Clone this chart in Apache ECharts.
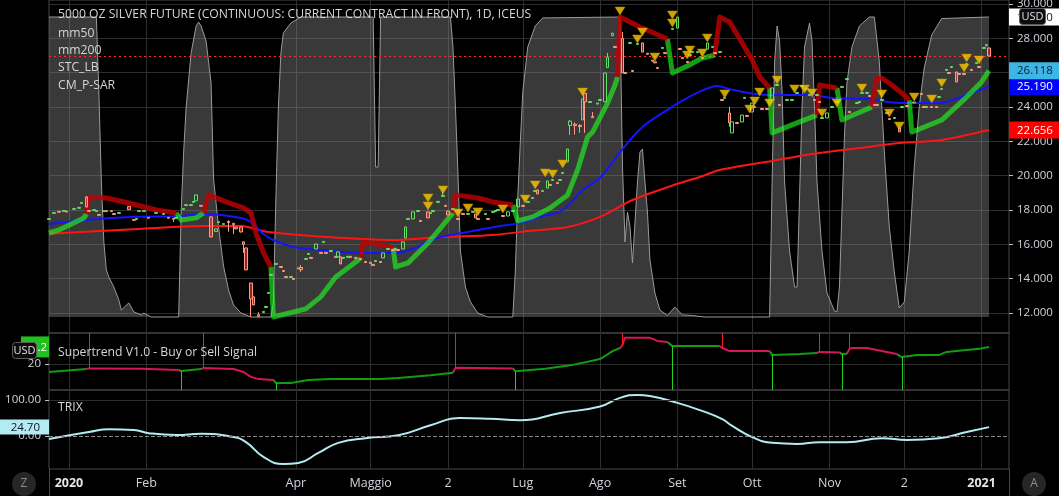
<!DOCTYPE html>
<html><head><meta charset="utf-8">
<script src="https://cdn.jsdelivr.net/npm/echarts@6/dist/echarts.min.js"></script>
<style>html,body{margin:0;padding:0;background:#000;}#c{width:1059px;height:496px;}</style>
</head><body><div id="c"></div>
<script>
const titleText = '5000 OZ SILVER FUTURE (CONTINUOUS: CURRENT CONTRACT IN FRONT), 1D, ICEUS';
const legendNames = ['mm50', 'mm200', 'STC_LB', 'CM_P-SAR'];
const stPaneName = 'Supertrend V1.0 - Buy or Sell Signal';
const trixPaneName = 'TRIX';
const monthTicks = ['2020-01-01','2020-02-01','2020-04-01','2020-05-01','2020-06-01','2020-07-01','2020-08-01','2020-09-01','2020-10-01','2020-11-01','2020-12-01','2021-01-01'];
const monthLabels = ['2020','Feb','Apr','Maggio','2','Lug','Ago','Set','Ott','Nov','2','2021'];
const priceTicks = [12,14,16,18,20,22,24,26,28,30];
const stTicks = [20];
const trixTicks = [0,100];

// [date, open, close, low, high]
const candles = [
['2019-12-24',17.45,17.50,17.44,17.51],['2019-12-26',17.80,17.85,17.79,17.86],['2019-12-28',17.92,17.87,17.86,17.93],
['2019-12-30',17.92,17.97,17.91,17.98],['2019-12-31',17.93,17.88,17.87,17.94],['2020-01-03',18.04,18.09,18.03,18.10],
['2020-01-05',18.10,18.15,18.09,18.16],['2020-01-06',18.38,18.44,18.37,18.45],['2020-01-08',18.76,18.18,18.15,18.80],
['2020-01-09',17.97,17.92,17.91,17.98],['2020-01-11',17.97,18.02,17.96,18.03],['2020-01-12',17.91,17.96,17.90,17.97],
['2020-01-13',17.74,17.69,17.68,17.75],['2020-01-15',17.91,17.96,17.90,17.97],['2020-01-16',17.96,17.91,17.90,17.97],
['2020-01-18',17.96,17.91,17.90,17.97],['2020-01-19',17.79,17.74,17.73,17.80],['2020-01-21',17.80,17.85,17.79,17.86],
['2020-01-25',18.20,18.02,18.01,18.21],['2020-01-27',17.45,17.40,17.39,17.46],['2020-01-28',17.45,17.50,17.44,17.51],
['2020-01-29',17.91,17.96,17.90,17.97],['2020-01-31',17.91,17.96,17.90,17.97],['2020-02-02',17.57,17.52,17.51,17.58],
['2020-02-05',17.80,17.85,17.79,17.86],['2020-02-08',17.74,17.79,17.73,17.80],['2020-02-10',17.57,17.52,17.51,17.58],
['2020-02-12',17.51,17.46,17.30,17.52],['2020-02-13',17.51,17.56,17.50,17.57],['2020-02-16',18.03,18.08,18.02,18.09],
['2020-02-17',18.26,18.31,18.25,18.32],['2020-02-19',18.26,18.31,18.25,18.32],['2020-02-20',18.44,18.50,18.43,18.51],
['2020-02-21',18.53,18.88,18.52,18.89],['2020-02-23',18.27,18.22,18.21,18.28],['2020-02-27',17.60,16.43,16.40,17.62],
['2020-02-29',16.75,16.90,16.74,16.91],['2020-03-01',17.27,17.32,17.26,17.33],['2020-03-03',17.16,17.21,17.15,17.22],
['2020-03-05',17.33,17.27,16.73,17.40],['2020-03-07',17.22,17.16,16.60,17.23],['2020-03-08',17.00,16.90,16.89,17.01],
['2020-03-10',17.01,16.72,16.70,17.02],['2020-03-11',16.15,16.00,15.50,16.16],['2020-03-12',15.79,14.51,14.50,15.80],
['2020-03-14',13.75,12.82,11.77,13.76],['2020-03-15',12.94,12.47,12.46,12.95],['2020-03-17',11.90,11.80,11.78,12.05],
['2020-03-19',12.03,12.09,12.02,12.10],['2020-03-20',12.32,12.38,12.31,12.39],['2020-03-21',13.14,13.20,13.13,13.21],
['2020-03-22',14.19,14.25,14.18,14.26],['2020-03-24',14.83,14.89,14.82,14.90],['2020-03-26',14.71,14.65,14.64,14.72],
['2020-03-27',14.48,14.42,14.41,14.49],['2020-03-28',14.13,14.07,14.06,14.14],['2020-03-30',14.07,14.13,14.06,14.14],
['2020-03-31',14.01,13.95,13.94,14.02],['2020-04-02',14.57,14.63,14.56,14.64],['2020-04-03',14.65,14.52,14.40,14.80],
['2020-04-05',15.12,15.18,15.11,15.19],['2020-04-06',15.41,15.47,15.40,15.48],['2020-04-07',15.24,15.18,15.17,15.25],
['2020-04-09',15.73,16.02,15.72,16.03],['2020-04-11',15.53,15.47,15.46,15.54],['2020-04-12',16.11,16.17,16.10,16.18],
['2020-04-13',15.53,15.47,15.46,15.54],['2020-04-15',15.58,15.64,15.57,15.65],['2020-04-17',15.30,15.24,15.23,15.31],
['2020-04-18',15.27,15.56,15.26,15.57],['2020-04-19',15.27,14.86,14.85,15.28],['2020-04-20',15.18,15.24,15.17,15.25],
['2020-04-22',15.24,15.30,15.23,15.31],['2020-04-23',15.30,15.24,15.23,15.31],['2020-04-25',15.24,15.18,15.17,15.25],
['2020-04-27',15.18,15.12,15.11,15.19],['2020-04-29',15.00,14.94,14.93,15.01],['2020-05-01',14.95,14.89,14.88,14.96],
['2020-05-02',14.83,14.77,14.76,14.84],['2020-05-03',15.00,15.06,14.99,15.07],['2020-05-05',15.00,14.94,14.93,15.01],
['2020-05-06',15.21,15.50,15.20,15.51],['2020-05-08',15.70,15.76,15.69,15.77],['2020-05-10',15.70,15.64,15.63,15.71],
['2020-05-11',15.70,15.76,15.69,15.77],['2020-05-12',15.70,15.64,15.63,15.71],['2020-05-14',15.73,16.14,15.72,16.15],
['2020-05-15',16.37,17.01,16.36,17.02],['2020-05-16',17.45,17.51,17.44,17.52],['2020-05-18',17.48,17.89,17.47,17.90],
['2020-05-20',17.91,17.97,17.90,17.98],['2020-05-21',17.39,17.33,17.32,17.40],['2020-05-24',17.89,17.54,17.53,17.90],
['2020-05-25',17.80,17.86,17.79,17.87],['2020-05-26',17.91,17.97,17.90,17.98],['2020-05-28',18.44,18.50,18.43,18.51],
['2020-05-30',18.79,18.85,18.78,19.05],['2020-05-31',18.27,18.21,18.20,18.28],['2020-06-01',17.94,17.71,17.70,17.95],
['2020-06-03',18.03,18.09,18.02,18.10],['2020-06-05',17.51,17.45,17.44,17.52],['2020-06-07',17.80,17.74,17.73,17.81],
['2020-06-09',17.74,17.80,17.73,17.81],['2020-06-11',17.86,17.92,17.85,17.93],['2020-06-12',17.77,17.54,17.53,17.78],
['2020-06-13',17.51,17.45,17.44,17.52],['2020-06-16',17.74,17.80,17.73,17.81],['2020-06-17',17.51,17.45,17.44,17.52],
['2020-06-19',17.86,17.92,17.85,17.93],['2020-06-20',17.91,17.97,17.90,17.98],['2020-06-21',17.97,18.03,17.96,18.04],
['2020-06-23',17.68,17.62,17.61,17.69],['2020-06-25',17.65,17.89,17.64,17.90],['2020-06-27',17.91,17.97,17.90,17.98],
['2020-06-29',18.18,18.64,18.17,18.65],['2020-07-01',18.27,18.21,18.20,18.28],['2020-07-03',18.44,18.50,18.43,18.51],
['2020-07-05',18.67,18.73,18.66,18.74],['2020-07-06',19.08,19.14,19.07,19.15],['2020-07-07',19.17,18.94,18.93,19.18],
['2020-07-09',19.08,19.14,19.07,19.15],['2020-07-11',19.28,19.69,19.27,19.70],['2020-07-12',19.49,19.43,19.42,19.50],
['2020-07-13',19.72,19.78,19.71,19.79],['2020-07-15',19.60,19.54,19.53,19.61],['2020-07-16',19.72,19.78,19.71,19.79],
['2020-07-17',20.13,20.19,20.12,20.20],['2020-07-19',20.80,21.55,20.79,21.56],['2020-07-20',22.92,23.18,22.37,23.24],
['2020-07-22',23.00,22.92,22.40,23.10],['2020-07-24',22.92,22.86,22.50,23.00],['2020-07-25',23.25,24.47,23.24,24.48],
['2020-07-26',24.80,24.30,22.49,24.81],['2020-07-28',24.26,24.32,24.25,24.33],['2020-07-29',23.45,23.38,23.37,23.70],
['2020-07-31',24.17,24.23,24.16,24.24],['2020-08-01',24.38,24.44,24.37,24.45],['2020-08-03',24.30,25.98,24.29,25.99],
['2020-08-04',26.30,26.90,26.29,27.15],['2020-08-06',28.15,28.30,28.14,28.31],['2020-08-07',27.53,27.47,27.46,27.54],
['2020-08-10',28.00,26.00,25.98,28.37],['2020-08-11',26.01,25.95,25.94,26.02],['2020-08-13',27.70,27.76,27.69,27.77],
['2020-08-14',26.13,26.07,26.06,26.14],['2020-08-16',27.64,27.70,27.63,27.71],['2020-08-18',27.73,27.20,27.19,27.74],
['2020-08-20',27.13,27.07,27.06,27.14],['2020-08-22',26.73,26.67,26.66,26.74],['2020-08-23',26.63,26.57,26.56,26.64],
['2020-08-24',26.30,26.24,26.23,26.31],['2020-08-26',27.41,27.47,27.40,27.48],['2020-08-27',27.17,27.11,27.10,27.18],
['2020-08-30',28.52,28.58,28.51,28.59],['2020-09-01',28.60,29.24,28.59,29.25],['2020-09-02',27.41,27.35,27.34,27.42],
['2020-09-03',26.88,26.82,26.81,26.89],['2020-09-05',26.65,26.59,26.58,26.66],['2020-09-06',27.00,27.06,26.99,27.07],
['2020-09-07',27.17,27.23,27.16,27.24],['2020-09-09',27.17,27.23,27.16,27.24],['2020-09-11',26.88,26.82,26.81,26.89],
['2020-09-13',27.38,27.73,27.37,27.74],['2020-09-15',27.47,27.53,27.46,27.54],['2020-09-16',27.17,27.11,27.10,27.18],
['2020-09-18',27.17,27.23,27.16,27.24],['2020-09-19',24.44,24.38,24.37,24.45],['2020-09-20',24.50,24.56,24.49,24.57],
['2020-09-22',23.65,23.07,22.85,24.00],['2020-09-23',22.49,23.13,22.48,23.14],['2020-09-25',23.10,23.04,23.03,23.11],
['2020-09-27',23.13,23.53,23.12,23.54],['2020-09-28',24.50,24.56,24.49,24.57],['2020-09-29',23.51,23.45,23.44,23.52],
['2020-10-01',23.71,24.23,23.70,24.24],['2020-10-02',24.03,23.97,23.96,24.04],['2020-10-05',23.91,23.85,23.84,23.92],
['2020-10-07',23.91,23.85,23.84,23.92],['2020-10-09',24.41,25.11,24.40,25.12],['2020-10-11',25.25,25.31,25.24,25.32],
['2020-10-12',24.15,24.09,24.08,24.16],['2020-10-15',24.38,24.44,24.37,24.45],['2020-10-17',24.38,24.44,24.37,24.45],
['2020-10-19',24.79,24.85,24.78,24.86],['2020-10-21',25.19,25.25,25.18,25.26],['2020-10-23',25.02,25.08,25.01,25.09],
['2020-10-24',24.67,24.73,24.66,24.74],['2020-10-26',24.44,24.38,24.37,24.45],['2020-10-27',24.67,24.73,24.66,24.74],
['2020-10-28',24.32,24.26,24.25,24.33],['2020-10-29',23.33,23.39,23.32,23.40],['2020-10-31',23.36,23.65,23.35,23.66],
['2020-11-02',23.97,24.03,23.96,24.04],['2020-11-04',24.26,24.32,24.25,24.33],['2020-11-06',25.14,25.20,25.13,25.21],
['2020-11-08',25.60,25.66,25.59,25.67],['2020-11-09',23.74,23.68,23.67,23.75],['2020-11-12',24.20,24.26,24.19,24.27],
['2020-11-13',24.26,24.32,24.25,24.33],['2020-11-14',24.79,24.85,24.78,24.86],['2020-11-16',24.79,24.85,24.78,24.86],
['2020-11-17',24.67,24.61,24.60,24.68],['2020-11-19',24.15,24.09,24.08,24.16],['2020-11-20',24.15,24.09,24.08,24.16],
['2020-11-22',24.38,24.44,24.37,24.45],['2020-11-24',23.68,23.62,23.61,23.69],['2020-11-25',23.33,23.27,23.26,23.34],
['2020-11-27',23.33,23.39,23.32,23.40],['2020-11-29',22.78,22.55,22.54,22.79],['2020-11-30',23.97,24.03,23.96,24.04],
['2020-12-02',24.09,24.03,24.02,24.10],['2020-12-05',24.23,24.29,24.22,24.30],['2020-12-08',24.79,24.73,24.72,24.80],
['2020-12-09',24.03,23.97,23.96,24.04],['2020-12-10',23.97,24.03,23.96,24.04],['2020-12-12',24.03,23.97,23.96,24.04],
['2020-12-14',24.03,23.97,23.96,24.04],['2020-12-15',24.55,24.61,24.54,24.62],['2020-12-16',25.02,25.08,25.01,25.09],
['2020-12-18',26.13,26.19,26.12,26.20],['2020-12-19',26.01,25.95,25.94,26.02],['2020-12-20',26.30,26.36,26.29,26.37],
['2020-12-22',26.04,25.46,25.45,26.05],['2020-12-23',25.95,25.89,25.88,25.96],['2020-12-25',25.95,25.89,25.88,25.96],
['2020-12-26',26.48,26.54,26.47,26.55],['2020-12-28',26.19,26.13,26.12,26.20],['2020-12-30',26.53,26.59,26.52,26.60],
['2020-12-31',26.36,26.30,26.29,26.37],['2021-01-02',27.41,27.47,27.40,27.48],['2021-01-03',27.57,27.63,27.56,27.64],
['2021-01-04',27.44,26.97,26.96,27.45]
];

const mm50 = [['2019-12-24',17.19],['2020-01-13',17.48],['2020-01-29',17.60],['2020-02-15',17.65],['2020-02-25',17.77],['2020-03-10',17.54],['2020-03-14',17.30],['2020-03-19',16.60],['2020-03-23',16.25],['2020-03-31',15.85],['2020-04-11',15.67],['2020-04-27',15.50],['2020-05-10',15.50],['2020-05-14',15.55],['2020-05-20',15.85],['2020-05-26',16.31],['2020-06-02',16.55],['2020-06-09',16.72],['2020-06-19',17.00],['2020-06-30',17.25],['2020-07-08',17.60],['2020-07-17',18.00],['2020-07-25',19.17],['2020-08-01',19.87],['2020-08-09',21.38],['2020-08-18',22.84],['2020-08-28',23.83],['2020-09-02',24.29],['2020-09-10',24.90],['2020-09-17',25.22],['2020-09-23',25.00],['2020-10-07',24.70],['2020-10-24',24.70],['2020-11-02',24.53],['2020-11-16',24.47],['2020-11-29',24.23],['2020-12-15',24.23],['2020-12-26',24.70],['2021-01-04',25.190]];

const mm200 = [['2019-12-24',16.62],['2020-01-29',16.90],['2020-02-25',17.07],['2020-03-10',17.07],['2020-03-14',16.96],['2020-03-21',16.72],['2020-04-13',16.43],['2020-05-10',16.25],['2020-05-30',16.43],['2020-06-19',16.55],['2020-07-05',16.80],['2020-07-19',17.01],['2020-08-01',17.60],['2020-08-14',18.58],['2020-09-02',19.57],['2020-09-10',19.92],['2020-09-18',20.33],['2020-10-09',20.86],['2020-10-25',21.26],['2020-11-13',21.61],['2020-11-29',21.90],['2020-12-16',22.08],['2021-01-04',22.656]];

const stcValues = [['2019-12-24',100],['2020-01-12',100],['2020-01-13',75],['2020-01-14',45],['2020-01-15',25],['2020-01-16',15.7],['2020-01-17',13.3],['2020-01-19',10],['2020-01-21',5.7],['2020-01-22',2.3],['2020-01-25',4.7],['2020-01-27',1.7],['2020-01-30',0.7],['2020-01-31',1.3],['2020-02-03',0],['2020-02-14',0],['2020-02-15',35],['2020-02-16',55],['2020-02-17',70],['2020-02-19',88],['2020-02-21',97],['2020-02-22',98.3],['2020-02-23',97],['2020-02-25',92],['2020-02-27',78],['2020-02-28',46],['2020-02-29',38],['2020-03-01',30],['2020-03-03',17],['2020-03-05',9],['2020-03-07',4],['2020-03-10',1.3],['2020-03-14',0],['2020-03-22',0],['2020-03-23',5],['2020-03-24',40],['2020-03-25',70],['2020-03-26',88],['2020-03-27',94.7],['2020-03-30',98],['2020-04-03',100],['2020-05-02',100],['2020-05-03',50],['2020-05-04',50],['2020-05-05',100],['2020-06-02',100],['2020-06-03',90],['2020-06-04',70],['2020-06-05',48],['2020-06-06',22],['2020-06-08',10],['2020-06-10',5],['2020-06-13',1.3],['2020-06-17',0],['2020-06-27',0],['2020-06-28',15],['2020-06-29',40],['2020-06-30',58],['2020-07-01',75],['2020-07-03',90],['2020-07-06',97],['2020-07-09',99.7],['2020-08-09',100],['2020-08-10',50],['2020-08-11',25],['2020-08-12',35],['2020-08-13',30],['2020-08-14',18],['2020-08-16',45],['2020-08-17',55],['2020-08-18',56],['2020-08-19',45],['2020-08-20',35],['2020-08-21',19],['2020-08-23',8],['2020-08-25',2.3],['2020-08-28',0.5],['2020-08-31',3.3],['2020-09-03',0.7],['2020-09-07',0.5],['2020-09-12',0],['2020-10-08',0],['2020-10-09',45],['2020-10-10',85],['2020-10-11',97],['2020-10-12',92],['2020-10-13',75],['2020-10-14',45],['2020-10-16',22],['2020-10-18',10],['2020-10-19',10],['2020-10-20',40],['2020-10-21',70],['2020-10-22',90],['2020-10-24',98],['2020-10-25',92],['2020-10-26',70],['2020-10-27',45],['2020-10-29',22],['2020-10-31',8],['2020-11-03',2],['2020-11-04',1.7],['2020-11-05',10],['2020-11-06',35],['2020-11-07',60],['2020-11-08',78],['2020-11-10',90],['2020-11-13',97],['2020-11-17',100],['2020-11-19',100],['2020-11-21',85],['2020-11-23',55],['2020-11-25',30],['2020-11-27',15],['2020-11-29',3],['2020-12-01',5],['2020-12-03',22],['2020-12-05',50],['2020-12-07',70],['2020-12-09',83],['2020-12-12',94],['2020-12-16',99.5],['2021-01-04',100]];

// P-SAR style trailing line: [trend, points]
const sarSegments = [
['g', [['2019-12-24',16.66],['2019-12-28',16.84],['2020-01-07',17.54],['2020-01-08',17.77]]],
['r', [['2020-01-09',18.76],['2020-01-16',18.70],['2020-01-25',18.41],['2020-02-05',18.00],['2020-02-13',17.83]]],
['g', [['2020-02-15',17.42],['2020-02-21',17.54],['2020-02-24',17.83]]],
['r', [['2020-02-26',18.88],['2020-03-04',18.47],['2020-03-11',18.12],['2020-03-14',17.83],['2020-03-16',16.66],['2020-03-19',15.50],['2020-03-22',14.68]]],
['g', [['2020-03-23',11.77],['2020-04-05',12.24],['2020-04-11',12.94],['2020-04-17',14.10],['2020-04-25',14.97],['2020-04-27',15.21]]],
['r', [['2020-04-28',16.14],['2020-05-05',15.97],['2020-05-10',15.79]]],
['g', [['2020-05-11',14.68],['2020-05-16',14.92],['2020-05-24',16.08],['2020-05-29',16.95],['2020-06-03',17.83]]],
['r', [['2020-06-04',18.88],['2020-06-13',18.70],['2020-06-19',18.47],['2020-06-27',18.29]]],
['g', [['2020-06-29',17.36],['2020-07-05',17.60],['2020-07-12',18.12],['2020-07-19',18.88],['2020-07-23',20.33],['2020-07-27',22.25],['2020-07-29',22.54],['2020-08-04',24.23],['2020-08-07',25.28],['2020-08-08',25.75]]],
['r', [['2020-08-09',29.24],['2020-08-17',28.66],['2020-08-28',27.96]]],
['g', [['2020-08-30',25.98],['2020-09-05',26.39],['2020-09-11',26.85],['2020-09-16',27.03]]],
['r', [['2020-09-18',29.24],['2020-09-22',28.95],['2020-09-27',27.73],['2020-10-01',26.74],['2020-10-04',25.75],['2020-10-08',25.11]]],
['g', [['2020-10-09',22.49],['2020-10-20',23.13],['2020-10-27',23.53]]],
['r', [['2020-10-28',25.28],['2020-11-04',25.11]]],
['g', [['2020-11-06',23.24],['2020-11-18',24.00]]],
['r', [['2020-11-20',25.69],['2020-11-22',25.69],['2020-11-26',25.28],['2020-11-30',24.82],['2020-12-03',24.41]]],
['g', [['2020-12-04',22.54],['2020-12-16',23.24],['2020-12-26',24.58],['2021-01-01',25.46],['2021-01-04',26.118]]]
];

const triangles = [['2020-05-24',18.70],['2020-05-24',18.24],['2020-05-30',19.17],['2020-06-05',17.83],['2020-06-09',18.12],['2020-06-13',17.89],['2020-06-23',18.06],['2020-07-02',18.64],['2020-07-06',19.46],['2020-07-10',20.16],['2020-07-13',20.10],['2020-07-17',20.68],['2020-07-25',24.87],['2020-08-09',29.59],['2020-08-16',27.96],['2020-08-18',28.37],['2020-08-23',26.91],['2020-08-30',29.36],['2020-08-30',28.89],['2020-09-05',27.03],['2020-09-06',27.32],['2020-09-11',27.15],['2020-09-13',28.02],['2020-09-20',24.76],['2020-09-30',23.88],['2020-10-02',24.35],['2020-10-04',24.87],['2020-10-08',24.23],['2020-10-11',25.57],['2020-10-18',25.05],['2020-10-22',25.05],['2020-10-25',24.82],['2020-10-29',23.65],['2020-11-04',24.23],['2020-11-14',25.11],['2020-11-22',24.76],['2020-11-25',23.65],['2020-11-29',22.89],['2020-12-05',24.58],['2020-12-12',24.47],['2020-12-16',25.40],['2020-12-25',26.27],['2020-12-26',26.85],['2020-12-31',26.74]];

const stSegments = [
['g', [['2019-12-24',17.1],['2020-01-08',18.2]]],
['r', [['2020-01-09',18.4],['2020-01-30',18.3],['2020-02-14',17.8]]],
['g', [['2020-02-15',17.45],['2020-02-23',18.2]]],
['r', [['2020-02-24',18.5],['2020-03-07',18.2],['2020-03-11',17.1],['2020-03-14',15.3],['2020-03-17',14.5],['2020-03-23',14.2]]],
['g', [['2020-03-24',13.1],['2020-03-30',13.1],['2020-04-06',14.2],['2020-04-15',14.5],['2020-05-05',14.5],['2020-05-12',14.9],['2020-05-25',15.9],['2020-06-03',16.8]]],
['r', [['2020-06-04',18.6],['2020-06-27',18.4]]],
['g', [['2020-06-28',17.4],['2020-07-10',18.3],['2020-07-20',19.5],['2020-07-27',20.8],['2020-08-01',21.8],['2020-08-06',24.7],['2020-08-09',25.8]]],
['r', [['2020-08-10',26.9],['2020-08-11',29.5],['2020-08-21',29.5],['2020-08-24',28.4],['2020-08-28',28.0]]],
['g', [['2020-08-30',26.5],['2020-09-18',26.5]]],
['r', [['2020-09-19',25.8],['2020-09-22',24.7],['2020-10-08',24.7]]],
['g', [['2020-10-09',23.3],['2020-10-20',23.6],['2020-10-27',24.0]]],
['r', [['2020-10-28',24.4],['2020-11-05',24.2]]],
['g', [['2020-11-06',23.6],['2020-11-08',23.7]]],
['r', [['2020-11-09',25.5],['2020-11-10',25.8],['2020-11-16',25.8],['2020-11-20',25.1],['2020-11-28',23.6]]],
['g', [['2020-11-30',22.5],['2020-12-06',23.3],['2020-12-15',23.3],['2020-12-18',24.4],['2020-12-31',25.5],['2021-01-04',26.2]]]
];
const stSell = [['2020-01-09',18.4],['2020-02-24',18.5],['2020-06-04',18.6],['2020-08-10',26.9],['2020-09-19',25.8],['2020-10-28',24.4],['2020-11-09',25.5]];
const stBuy = [['2020-02-15',17.45],['2020-03-24',13.1],['2020-06-28',17.4],['2020-08-30',26.5],['2020-10-09',23.3],['2020-11-06',23.6],['2020-11-30',22.5]];

const trix = [['2019-12-24',-8],['2020-01-09',11],['2020-01-17',19],['2020-01-27',17],['2020-02-02',8],['2020-02-13',3],['2020-02-23',6],['2020-03-07',-3],['2020-03-12',-17],['2020-03-19',-58],['2020-03-27',-78],['2020-04-02',-75],['2020-04-10',-47],['2020-04-18',-19],['2020-04-29',-6],['2020-05-12',2],['2020-05-25',30],['2020-06-06',50],['2020-06-18',48],['2020-06-30',44],['2020-07-16',64],['2020-08-01',82],['2020-08-09',106],['2020-08-16',114],['2020-08-21',111],['2020-09-01',92],['2020-09-10',72],['2020-09-19',47],['2020-09-23',28],['2020-10-01',-3],['2020-10-09',-19],['2020-10-19',-22],['2020-10-28',-17],['2020-11-08',-17],['2020-11-22',-6],['2020-12-02',-11],['2020-12-15',-6],['2020-12-26',11],['2021-01-04',24.70]];

// ---------- build ----------
const FONT = 'Open Sans';
const TXT = '#d1d4dc';
const GRIDC = '#2e2e2e';
const FS = 12.2;
const xMin = '2019-12-24', xMax = '2021-01-12';
const ts = s => { const p = s.split('-').map(Number); return new Date(p[0], p[1]-1, p[2]).getTime(); };
const T = arr => arr.map(p => [ts(p[0])].concat(p.slice(1)));
const monthTs = monthTicks.map(ts);
function fmtMonth(v) {
  const i = monthTs.findIndex(t => Math.abs(t - v) < 43200000);
  if (i < 0) return '';
  const l = monthLabels[i];
  return /^\d{4}$/.test(l) ? '{y|' + l + '}' : l;
}
function splitSegs(segs) {
  const out = {g: [], r: []};
  segs.forEach((s, i) => {
    const arr = out[s[0]];
    if (arr.length) arr.push([ts(s[1][0][0]), '-']);
    if (i > 0) { const prev = segs[i-1][1]; const lp = prev[prev.length-1]; arr.push([ts(lp[0]), lp[1]]); }
    s[1].forEach(p => arr.push([ts(p[0]), p[1]]));
  });
  return out;
}
const sar = splitSegs(sarSegments);
const st = splitSegs(stSegments);
const last = a => a[a.length-1];
const sarLast = last(last(sarSegments)[1])[1];
const mm50Last = last(mm50)[1];
const mm200Last = last(mm200)[1];
const stcLast = last(stcValues)[1];
const stLast = last(last(stSegments)[1])[1];
const trixLast = last(trix)[1];
const lastClose = last(candles)[2];

const P_MIN = 10.835, P_MAX = 30.233;
const ST_MIN = 10.54, ST_MAX = 31.27;
const TR_MIN = -91.6, TR_MAX = 127.8;

function xAx(g, show) {
  return {
    type: 'value', gridIndex: g, min: ts(xMin), max: ts(xMax),
    axisLine: {show: false},
    axisTick: {show: false, customValues: monthTs},
    splitLine: {show: true, lineStyle: {color: GRIDC, width: 1}},
    axisLabel: {show: show, customValues: monthTs, hideOverlap: false, formatter: fmtMonth,
      color: TXT, fontSize: 12.5, fontFamily: FONT, margin: 8,
      rich: {y: {fontWeight: 'bold', color: '#e6e6e6', fontSize: 12.5, fontFamily: FONT}}},
    axisPointer: {show: false}
  };
}
const badge = (bg, fg, w) => ({backgroundColor: bg, color: fg, padding: [3,4,2,8], width: w, fontSize: 11.5, fontFamily: FONT, lineHeight: 12});
function badgeAxis(grid, pos, min, max, value, text, rich) {
  return {type: 'value', gridIndex: grid, position: pos, min: min, max: max,
    axisLine: {show: false}, axisTick: {show: false}, splitLine: {show: false},
    axisLabel: {customValues: [value], hideOverlap: false, margin: 0, formatter: () => '{k|' + text + '}', rich: {k: rich}}};
}
const titleStyle = {color: '#d6d6d6', fontSize: FS, fontWeight: 'normal', fontFamily: FONT};

const option = {
  backgroundColor: '#000',
  animation: false,
  title: [
    {text: titleText, left: 58, top: 8.5, padding: 0, textStyle: titleStyle},
    {text: legendNames.join('\n'), left: 58, top: 24.5, padding: 0, textStyle: Object.assign({}, titleStyle, {lineHeight: 17.3})},
    {text: stPaneName, left: 58, top: 346.5, padding: 0, textStyle: titleStyle},
    {text: trixPaneName, left: 58, top: 402, padding: 0, textStyle: titleStyle}
  ],
  grid: [
    {left: 49, right: 50, top: 0, height: 333, show: true, borderColor: '#474747', borderWidth: 1, outerBoundsMode: 'none'},
    {left: 49, right: 50, top: 333, height: 57, show: true, borderColor: '#474747', borderWidth: 1, outerBoundsMode: 'none'},
    {left: 49, right: 50, top: 390, height: 79, show: true, borderColor: '#474747', borderWidth: 1, outerBoundsMode: 'none'}
  ],
  xAxis: [xAx(0, false), xAx(1, false), xAx(2, true)],
  yAxis: [
    {type: 'value', gridIndex: 0, position: 'right', min: P_MIN, max: P_MAX,
      axisLine: {show: false},
      axisTick: {show: true, inside: false, length: 4, customValues: priceTicks, lineStyle: {color: '#bbb'}},
      axisLabel: {customValues: priceTicks, hideOverlap: false, formatter: v => v.toFixed(3), color: TXT, fontSize: 11.5, fontFamily: FONT, margin: 8},
      splitLine: {show: true, lineStyle: {color: GRIDC}}},
    badgeAxis(0, 'right', -5.33, 105.67, stcLast, stcLast.toFixed(2), badge('#ffffff', '#131313', 38)),
    badgeAxis(0, 'right', P_MIN, P_MAX, mm200Last, mm200Last.toFixed(3), badge('#ff0000', '#ffffff', 38)),
    badgeAxis(0, 'right', P_MIN, P_MAX, mm50Last, mm50Last.toFixed(3), badge('#0000ff', '#ffffff', 38)),
    badgeAxis(0, 'right', P_MIN, P_MAX, sarLast, sarLast.toFixed(3), badge('#3db5e6', '#0b1e2c', 38)),
    {type: 'value', gridIndex: 1, position: 'left', min: ST_MIN, max: ST_MAX,
      axisLine: {show: false},
      axisTick: {show: true, length: 4, customValues: stTicks, lineStyle: {color: '#bbb'}},
      axisLabel: {customValues: stTicks, formatter: v => String(v), color: TXT, fontSize: 11.5, fontFamily: FONT, margin: 8},
      splitLine: {show: true, lineStyle: {color: GRIDC}}},
    badgeAxis(1, 'left', ST_MIN, ST_MAX, stLast, stLast.toFixed(1),
      {backgroundColor: '#22c01e', color: '#ffffff', padding: [5,2,4,2], width: 24, fontSize: 11.5, fontFamily: FONT, align: 'right'}),
    {type: 'value', gridIndex: 2, position: 'left', min: TR_MIN, max: TR_MAX,
      axisLine: {show: false},
      axisTick: {show: true, length: 4, customValues: trixTicks, lineStyle: {color: '#bbb'}},
      axisLabel: {customValues: trixTicks, hideOverlap: false, formatter: v => v.toFixed(2), color: TXT, fontSize: 11.5, fontFamily: FONT, margin: 8},
      splitLine: {show: false}},
    badgeAxis(2, 'left', TR_MIN, TR_MAX, trixLast, trixLast.toFixed(2),
      {backgroundColor: '#b2ebf2', color: '#131722', padding: [2,9,1,0], width: 40, fontSize: 11.5, fontFamily: FONT, align: 'right'})
  ],
  series: [
    {name: 'STC_LB', type: 'line', xAxisIndex: 0, yAxisIndex: 1, data: T(stcValues), showSymbol: false, silent: true, z: 1,
      lineStyle: {color: '#9a9a9a', width: 1}, areaStyle: {color: 'rgba(135,135,135,0.6)'}},
    {name: 'mm200', type: 'line', xAxisIndex: 0, yAxisIndex: 0, data: T(mm200), showSymbol: false, smooth: 0.3, z: 2,
      lineStyle: {color: '#ff1414', width: 2},
      markLine: {silent: true, symbol: 'none', label: {show: false}, emphasis: {disabled: true}, z: 2,
        data: [{yAxis: lastClose, lineStyle: {type: [2, 3], color: '#ff2a2a', width: 1, opacity: 1}}]}},
    {name: 'mm50', type: 'line', xAxisIndex: 0, yAxisIndex: 0, data: T(mm50), showSymbol: false, smooth: 0.3, z: 2,
      lineStyle: {color: '#1414ff', width: 2}},
    {name: 'sarUp', type: 'line', xAxisIndex: 0, yAxisIndex: 0, data: sar.g, showSymbol: false, connectNulls: false, z: 3,
      lineStyle: {color: 'rgba(30,255,30,0.62)', width: 5, join: 'round'}},
    {name: 'sarDn', type: 'line', xAxisIndex: 0, yAxisIndex: 0, data: sar.r, showSymbol: false, connectNulls: false, z: 3,
      lineStyle: {color: 'rgba(190,0,0,0.82)', width: 5, join: 'round'}},
    {name: 'price', type: 'candlestick', xAxisIndex: 0, yAxisIndex: 0, data: T(candles), encode: {x: 0, y: [1,2,3,4]},
      barWidth: 3, z: 4,
      itemStyle: {color: 'rgba(0,0,0,0)', color0: 'rgba(255,70,60,0.55)', borderColor: '#62e262', borderColor0: '#ff9b80', borderWidth: 1}},
    {name: 'signals', type: 'scatter', xAxisIndex: 0, yAxisIndex: 0, data: T(triangles), symbol: 'triangle', symbolRotate: 180,
      symbolSize: [10, 8], z: 5, itemStyle: {color: '#ffcc00', borderColor: '#b58a00', borderWidth: 0.6}},
    {name: 'stUp', type: 'line', xAxisIndex: 1, yAxisIndex: 5, data: st.g, showSymbol: false, z: 3,
      lineStyle: {color: '#129c12', width: 2},
      markLine: {silent: true, symbol: 'none', label: {show: false}, lineStyle: {color: '#21d421', width: 1, type: 'solid'},
        data: stBuy.map(p => [{coord: [ts(p[0]), p[1]]}, {coord: [ts(p[0]), ST_MIN]}])}},
    {name: 'stDn', type: 'line', xAxisIndex: 1, yAxisIndex: 5, data: st.r, showSymbol: false, z: 3,
      lineStyle: {color: '#d6155a', width: 2},
      markLine: {silent: true, symbol: 'none', label: {show: false}, lineStyle: {color: '#ff1a1a', width: 1, type: 'solid'},
        data: stSell.map(p => [{coord: [ts(p[0]), p[1]]}, {coord: [ts(p[0]), ST_MAX]}])}},
    {name: 'TRIX', type: 'line', xAxisIndex: 2, yAxisIndex: 7, data: T(trix), showSymbol: false, smooth: 0.5, z: 3,
      lineStyle: {color: '#b2ebf2', width: 2},
      markLine: {silent: true, symbol: 'none', label: {show: false},
        data: [{yAxis: 0, lineStyle: {type: 'dashed', color: '#8a8a8a', width: 1}},
               {yAxis: 100, lineStyle: {type: 'solid', color: GRIDC, width: 1}}]}}
  ],
  graphic: [
    {type: 'line', z: 100, shape: {x1: 49.5, y1: 469, x2: 49.5, y2: 496}, style: {stroke: '#474747', lineWidth: 1}},
    {type: 'line', z: 100, shape: {x1: 1009.5, y1: 469, x2: 1009.5, y2: 496}, style: {stroke: '#474747', lineWidth: 1}},
    {type: 'rect', z: 100, shape: {x: 1019.5, y: 8.5, width: 26, height: 16, r: 3}, style: {fill: '#0c0c0c', stroke: '#5c5c5c', lineWidth: 1}},
    {type: 'text', z: 101, x: 1032.5, y: 16.5, style: {text: 'USD', fill: '#e0e0e0', font: '11px "Open Sans"', align: 'center', verticalAlign: 'middle'}},
    {type: 'rect', z: 100, shape: {x: 12.5, y: 342.5, width: 24, height: 16, r: 3}, style: {fill: '#0c0c0c', stroke: '#5c5c5c', lineWidth: 1}},
    {type: 'text', z: 101, x: 24.5, y: 350.5, style: {text: 'USD', fill: '#e0e0e0', font: '11px "Open Sans"', align: 'center', verticalAlign: 'middle'}},
    {type: 'circle', z: 100, shape: {cx: 24, cy: 484, r: 12}, style: {fill: '#262626'}},
    {type: 'text', z: 101, x: 24, y: 484, style: {text: 'Z', fill: '#8c8c8c', font: '12px "Open Sans"', align: 'center', verticalAlign: 'middle'}},
    {type: 'circle', z: 100, shape: {cx: 1034, cy: 484, r: 12}, style: {fill: '#262626'}},
    {type: 'text', z: 101, x: 1034, y: 484, style: {text: 'A', fill: '#8c8c8c', font: '12px "Open Sans"', align: 'center', verticalAlign: 'middle'}}
  ]
};
const chart = echarts.init(document.getElementById('c'));
chart.setOption(option);
</script></body></html>
